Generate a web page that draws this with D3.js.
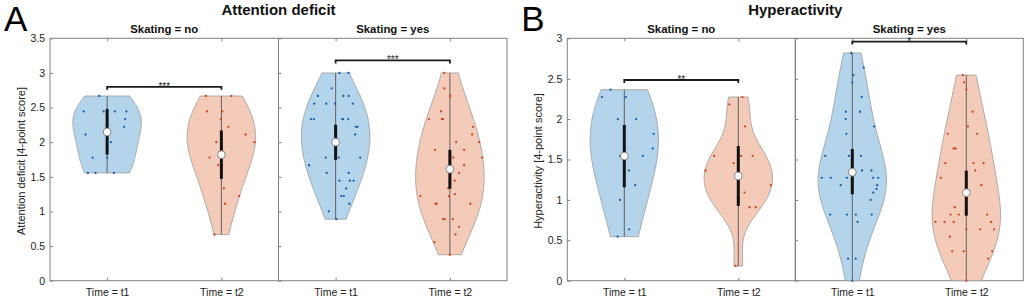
<!DOCTYPE html>
<html>
<head>
<meta charset="utf-8">
<script src="https://cdn.jsdelivr.net/npm/d3@7"></script>
<style>
  body { margin: 0; background: #fff; }
  svg { font-family: "Liberation Sans", Arial, sans-serif; }
</style>
</head>
<body>
<script>
// categories
const timeLabels = ["Time = t1", "Time = t2"];
const skatingLabels = ["Skating = no", "Skating = yes"];

// Attention deficit scores and their jitter (fraction of violin half width)
const attnNoT1 = [2.667, 2.444, 2.444, 2.444, 2.444, 2.333, 2.222, 2.111, 2.0, 1.778, 1.778, 1.556, 1.556, 1.556];
const attnNoT1Jit = [-0.35, -0.73, -0.11, 0.24, 0.60, 0.53, 0.50, -0.66, 0.12, -0.52, 0.0, -0.86, -0.52, 0.30];
const attnNoT2 = [2.667, 2.667, 2.444, 2.444, 2.333, 2.222, 2.111, 2.0, 2.0, 1.889, 1.778, 1.667, 1.667, 1.333, 1.222, 1.111, 0.667];
const attnNoT2Jit = [-0.74, 0.48, -0.5, 0.03, -0.02, 0.21, 0.71, 0.97, -0.15, 0.02, -0.38, -0.11, 0.0, 0.12, 0.98, 0.23, -0.92];
const attnYesT1 = [3.0, 3.0, 2.778, 2.667, 2.667, 2.667, 2.556, 2.556, 2.556, 2.556, 2.333, 2.333, 2.333, 2.333, 2.333,
  2.222, 2.222, 2.111, 2.111, 2.0, 2.0, 2.0, 2.0, 1.889, 1.889, 1.778, 1.778, 1.778, 1.778, 1.667, 1.556, 1.556,
  1.444, 1.444, 1.444, 1.333, 1.222, 1.222, 1.111, 1.0, 0.889];
const attnYesT1Jit = [0.28, 0.94, -0.19, -0.72, 0.31, 0.53, -0.77, -0.34, -0.02, 0.62, -0.76, -0.67, 0.20, 0.23, 0.39,
  0.60, 0.65, 0.57, 0.0, 0.01, -0.02, 0.0, 0.01, 0.0, -0.01, 0.10, 0.77, -0.31, 0.0, -0.88, -0.32, 0.47,
  0.15, 0.56, 0.71, 0.47, 0.29, 0.42, 0.83, -0.5, 0.07];
const attnYesT2 = [3.0, 2.778, 2.667, 2.444, 2.333, 2.333, 2.333, 2.222, 2.111, 2.0, 2.0, 1.889, 1.889, 1.778, 1.778,
  1.667, 1.667, 1.556, 1.556, 1.444, 1.444, 1.333, 1.25, 1.222, 1.222, 1.111, 1.111, 1.111, 0.889, 0.889, 0.889,
  0.778, 0.667, 0.556, 0.375];
const attnYesT2Jit = [-0.68, -0.42, 0.02, -0.42, -0.89, -0.34, -0.29, 0.89, 0.79, 0.21, 0.97, -0.47, 0.45, 0.10, 0.98,
  0.42, 0.0, 0.27, 0.01, 0.14, 0.0, -0.05, 0.15, -0.9, -0.03, -0.46, -0.42, 0.66, -0.26, -0.2, 0.11,
  0.4, 0.28, -0.92, 0.0];
// median and box ends, order: no/t1, no/t2, yes/t1, yes/t2
const attnMedian = [2.147, 1.82, 2.0, 1.61];
const attnBoxLo = [1.82, 1.47, 1.745, 1.33];
const attnBoxHi = [2.48, 2.17, 2.252, 1.89];
const attnSigY = [2.8, 3.18];
const attnSigText = ["***", "***"];

// Hyperactivity scores
const hypNoT1 = [2.364, 2.273, 2.273, 2.0, 2.0, 1.818, 1.636, 1.545, 1.545, 1.364, 1.182, 1.0, 0.636, 0.545];
const hypNoT1Jit = [-0.59, -0.86, 0.06, -0.2, 0.37, 0.86, 0.84, 0.56, -0.13, 0.15, 0.4, -0.18, 0.31, -0.48];
const hypNoT2 = [2.273, 2.182, 1.909, 1.545, 1.545, 1.545, 1.455, 1.364, 1.273, 1.182, 1.182, 1.091, 1.0, 0.909, 0.909, 0.182];
const hypNoT2Jit = [0.43, -0.82, 0.51, -0.87, 0.1, 0.52, -0.15, -0.98, 0.0, 0.97, 0.0, 0.2, 0.01, 0.49, 0.76, -0.64];
const hypYesT1 = [2.818, 2.636, 2.545, 2.455, 2.273, 2.091, 2.091, 2.0, 1.909, 1.818, 1.545, 1.545, 1.545, 1.364, 1.364,
  1.273, 1.273, 1.273, 1.273, 1.273, 1.182, 1.182, 1.136, 1.091, 1.0, 0.818, 0.818, 0.818, 0.818, 0.727, 0.273, 0.273, 0.0];
const hypYesT1Jit = [-0.12, 0.97, 0.08, 0.0, 0.55, -0.33, 0.39, -0.31, 0.95, -0.24, -0.88, -0.11, 0.28, 0.29, 0.57,
  -0.89, -0.63, -0.16, 0.61, 0.76, -0.34, 0.73, 0.72, 0.63, 0.58, -0.82, -0.2, 0.13, 0.72, 0.22, -0.36, 0.28, 0.0];
const hypYesT2 = [2.545, 2.455, 2.364, 2.091, 1.909, 1.818, 1.818, 1.636, 1.636, 1.455, 1.455, 1.455, 1.364, 1.273, 1.182,
  0.909, 0.818, 0.818, 0.818, 0.727, 0.727, 0.727, 0.727, 0.636, 0.636, 0.636, 0.545, 0.364, 0.364, 0.364, 0.273, 0.0];
const hypYesT2Jit = [-0.35, -0.2, 0.0, 0.36, 0.08, -0.84, 0.49, -0.51, -0.43, -0.76, 0.26, 0.63, 0.31, -0.85, 0.48,
  -0.34, -0.46, -0.22, 0.61, -0.91, -0.64, -0.37, 0.73, 0.84, 0.0, 0.42, -0.52, -0.52, -0.1, 0.95, 0.9, 0.0];
const hypMedian = [1.543, 1.296, 1.342, 1.089];
const hypBoxLo = [1.156, 0.925, 1.07, 0.805];
const hypBoxHi = [1.927, 1.667, 1.63, 1.362];
const hypSigY = [2.484, 2.96];
const hypSigText = ["**", "*"];

const W = 1026, H = 298;
const plotTop = 38.3, plotBottom = 280.7;
const fillColors = ["#b3d4ea", "#f4cbb9"];
const dotColors = ["#1a5ea6", "#cf4520"];
const axisColor = "#808080", textColor = "#222";
const bwFactor = 1.2;

const panels = [
  {letter: "A", title: "Attention deficit", ylabel: "Attention deficit [4-point score]",
   left: 50, subW: 228.5, yMax: 3.5,
   groups: [[attnNoT1, attnNoT1Jit], [attnNoT2, attnNoT2Jit], [attnYesT1, attnYesT1Jit], [attnYesT2, attnYesT2Jit]],
   median: attnMedian, boxLo: attnBoxLo, boxHi: attnBoxHi, sigY: attnSigY, sigText: attnSigText},
  {letter: "B", title: "Hyperactivity", ylabel: "Hyperactivity [4-point score]",
   left: 567.3, subW: 228, yMax: 3,
   groups: [[hypNoT1, hypNoT1Jit], [hypNoT2, hypNoT2Jit], [hypYesT1, hypYesT1Jit], [hypYesT2, hypYesT2Jit]],
   median: hypMedian, boxLo: hypBoxLo, boxHi: hypBoxHi, sigY: hypSigY, sigText: hypSigText}
];

// gaussian kernel density, Silverman bandwidth with MAD sigma (like ksdensity)
function kdeFn(vals) {
  const n = vals.length;
  const med = d3.median(vals);
  let sig = d3.median(vals, v => Math.abs(v - med)) / 0.6745;
  if (!(sig > 0)) sig = d3.deviation(vals) || 0.1;
  const bw = bwFactor * sig * Math.pow(4 / (3 * n), 0.2);
  return t => d3.sum(vals, v => Math.exp(-0.5 * ((t - v) / bw) ** 2)) / (n * bw * Math.sqrt(2 * Math.PI));
}

const svg = d3.select("body").append("svg")
  .attr("width", W)
  .attr("height", H);

panels.forEach(p => {
  const y = d3.scaleLinear().domain([0, p.yMax]).range([plotBottom, plotTop]);
  const g = svg.append("g");

  g.append("text")
    .attr("x", p.left - 46).attr("y", 30.5)
    .attr("font-size", 35).attr("fill", "#000")
    .text(p.letter);

  g.append("text")
    .attr("x", p.left + p.subW).attr("y", 15)
    .attr("text-anchor", "middle").attr("font-weight", "bold").attr("font-size", 15)
    .attr("fill", "#111")
    .text(p.title);

  g.append("text")
    .attr("transform", `translate(${p.left - 25.5},${(plotTop + plotBottom) / 2 + 1.5}) rotate(-90)`)
    .attr("text-anchor", "middle").attr("font-size", 11).attr("fill", textColor)
    .text(p.ylabel);

  skatingLabels.forEach((s, si) => {
    const x0 = p.left + si * p.subW;
    const x = d3.scalePoint().domain(timeLabels).range([x0, x0 + p.subW]).padding(0.5);
    const half = 0.3 * x.step();
    const sub = g.append("g");

    // axes
    const yAxis = d3.axisLeft(y)
      .tickValues(d3.range(0, p.yMax + 0.01, 0.5))
      .tickSize(-3).tickSizeOuter(0).tickPadding(5)
      .tickFormat(si === 0 ? d3.format("") : () => "");
    sub.append("g").attr("transform", `translate(${x0},0)`).call(yAxis)
      .call(a => a.select(".domain").remove())
      .call(a => a.selectAll("line").attr("stroke", axisColor))
      .call(a => a.selectAll("text").attr("font-size", 10.5).attr("fill", textColor)
        .attr("font-family", "Liberation Sans, Arial, sans-serif"));

    sub.append("g").attr("transform", `translate(0,${plotBottom})`)
      .call(d3.axisBottom(x).tickSize(-3).tickSizeOuter(0).tickPadding(7.6))
      .call(a => a.select(".domain").remove())
      .call(a => a.selectAll("line").attr("stroke", axisColor))
      .call(a => a.selectAll("text").attr("font-size", 10.5).attr("fill", textColor)
        .attr("font-family", "Liberation Sans, Arial, sans-serif"));

    sub.append("g").attr("transform", `translate(0,${plotTop})`)
      .call(d3.axisTop(x).tickSize(-3).tickSizeOuter(0).tickFormat(() => ""))
      .call(a => a.select(".domain").remove())
      .call(a => a.selectAll("line").attr("stroke", axisColor));

    sub.append("rect")
      .attr("x", x0).attr("y", plotTop)
      .attr("width", p.subW).attr("height", plotBottom - plotTop)
      .attr("fill", "none").attr("stroke", axisColor).attr("stroke-width", 1);

    sub.append("text")
      .attr("x", x0 + p.subW / 2).attr("y", 33.3)
      .attr("text-anchor", "middle").attr("font-weight", "bold").attr("font-size", 11.4)
      .attr("fill", "#111")
      .text(s);

    timeLabels.forEach((t, ti) => {
      const k = si * 2 + ti;
      const [vals, jit] = p.groups[k];
      const cx = x(t);
      const kde = kdeFn(vals);
      const lo = d3.min(vals), hi = d3.max(vals);
      const grid = d3.range(81).map(i => lo + (hi - lo) * i / 80);
      const dens = grid.map(v => ({v: v, d: kde(v)}));
      const wScale = d3.scaleLinear().domain([0, d3.max(dens, d => d.d)]).range([0, half]);

      const area = d3.area()
        .x0(d => cx - wScale(d.d))
        .x1(d => cx + wScale(d.d))
        .y(d => y(d.v));

      sub.append("path")
        .attr("d", area(dens))
        .attr("fill", fillColors[ti])
        .attr("stroke", "#9a9a9a").attr("stroke-width", 0.8);

      sub.append("line")
        .attr("x1", cx).attr("x2", cx)
        .attr("y1", y(lo)).attr("y2", y(hi))
        .attr("stroke", "#555").attr("stroke-width", 0.9);

      sub.append("g").selectAll("circle")
        .data(vals)
        .join("circle")
        .attr("cx", (v, i) => cx + jit[i] * wScale(kde(v)))
        .attr("cy", v => y(v))
        .attr("r", 1.15)
        .attr("fill", dotColors[ti]);

      sub.append("line")
        .attr("x1", cx).attr("x2", cx)
        .attr("y1", y(p.boxLo[k])).attr("y2", y(p.boxHi[k]))
        .attr("stroke", "#111").attr("stroke-width", 3);

      sub.append("circle")
        .attr("cx", cx).attr("cy", y(p.median[k]))
        .attr("r", 3.9)
        .attr("fill", "#fff").attr("stroke", "#7a7a7a").attr("stroke-width", 0.9);
    });

    // significance bracket
    const yb = y(p.sigY[si]);
    const xa = x(timeLabels[0]), xb = x(timeLabels[1]);
    sub.append("path")
      .attr("d", `M${xa},${yb + 3}V${yb}H${xb}V${yb + 3}`)
      .attr("fill", "none").attr("stroke", "#1a1a1a").attr("stroke-width", 1.8);
    sub.append("text")
      .attr("x", (xa + xb) / 2).attr("y", yb + 3)
      .attr("text-anchor", "middle").attr("font-size", 10).attr("fill", "#222")
      .text(p.sigText[si]);
  });
});
</script>
</body>
</html>
